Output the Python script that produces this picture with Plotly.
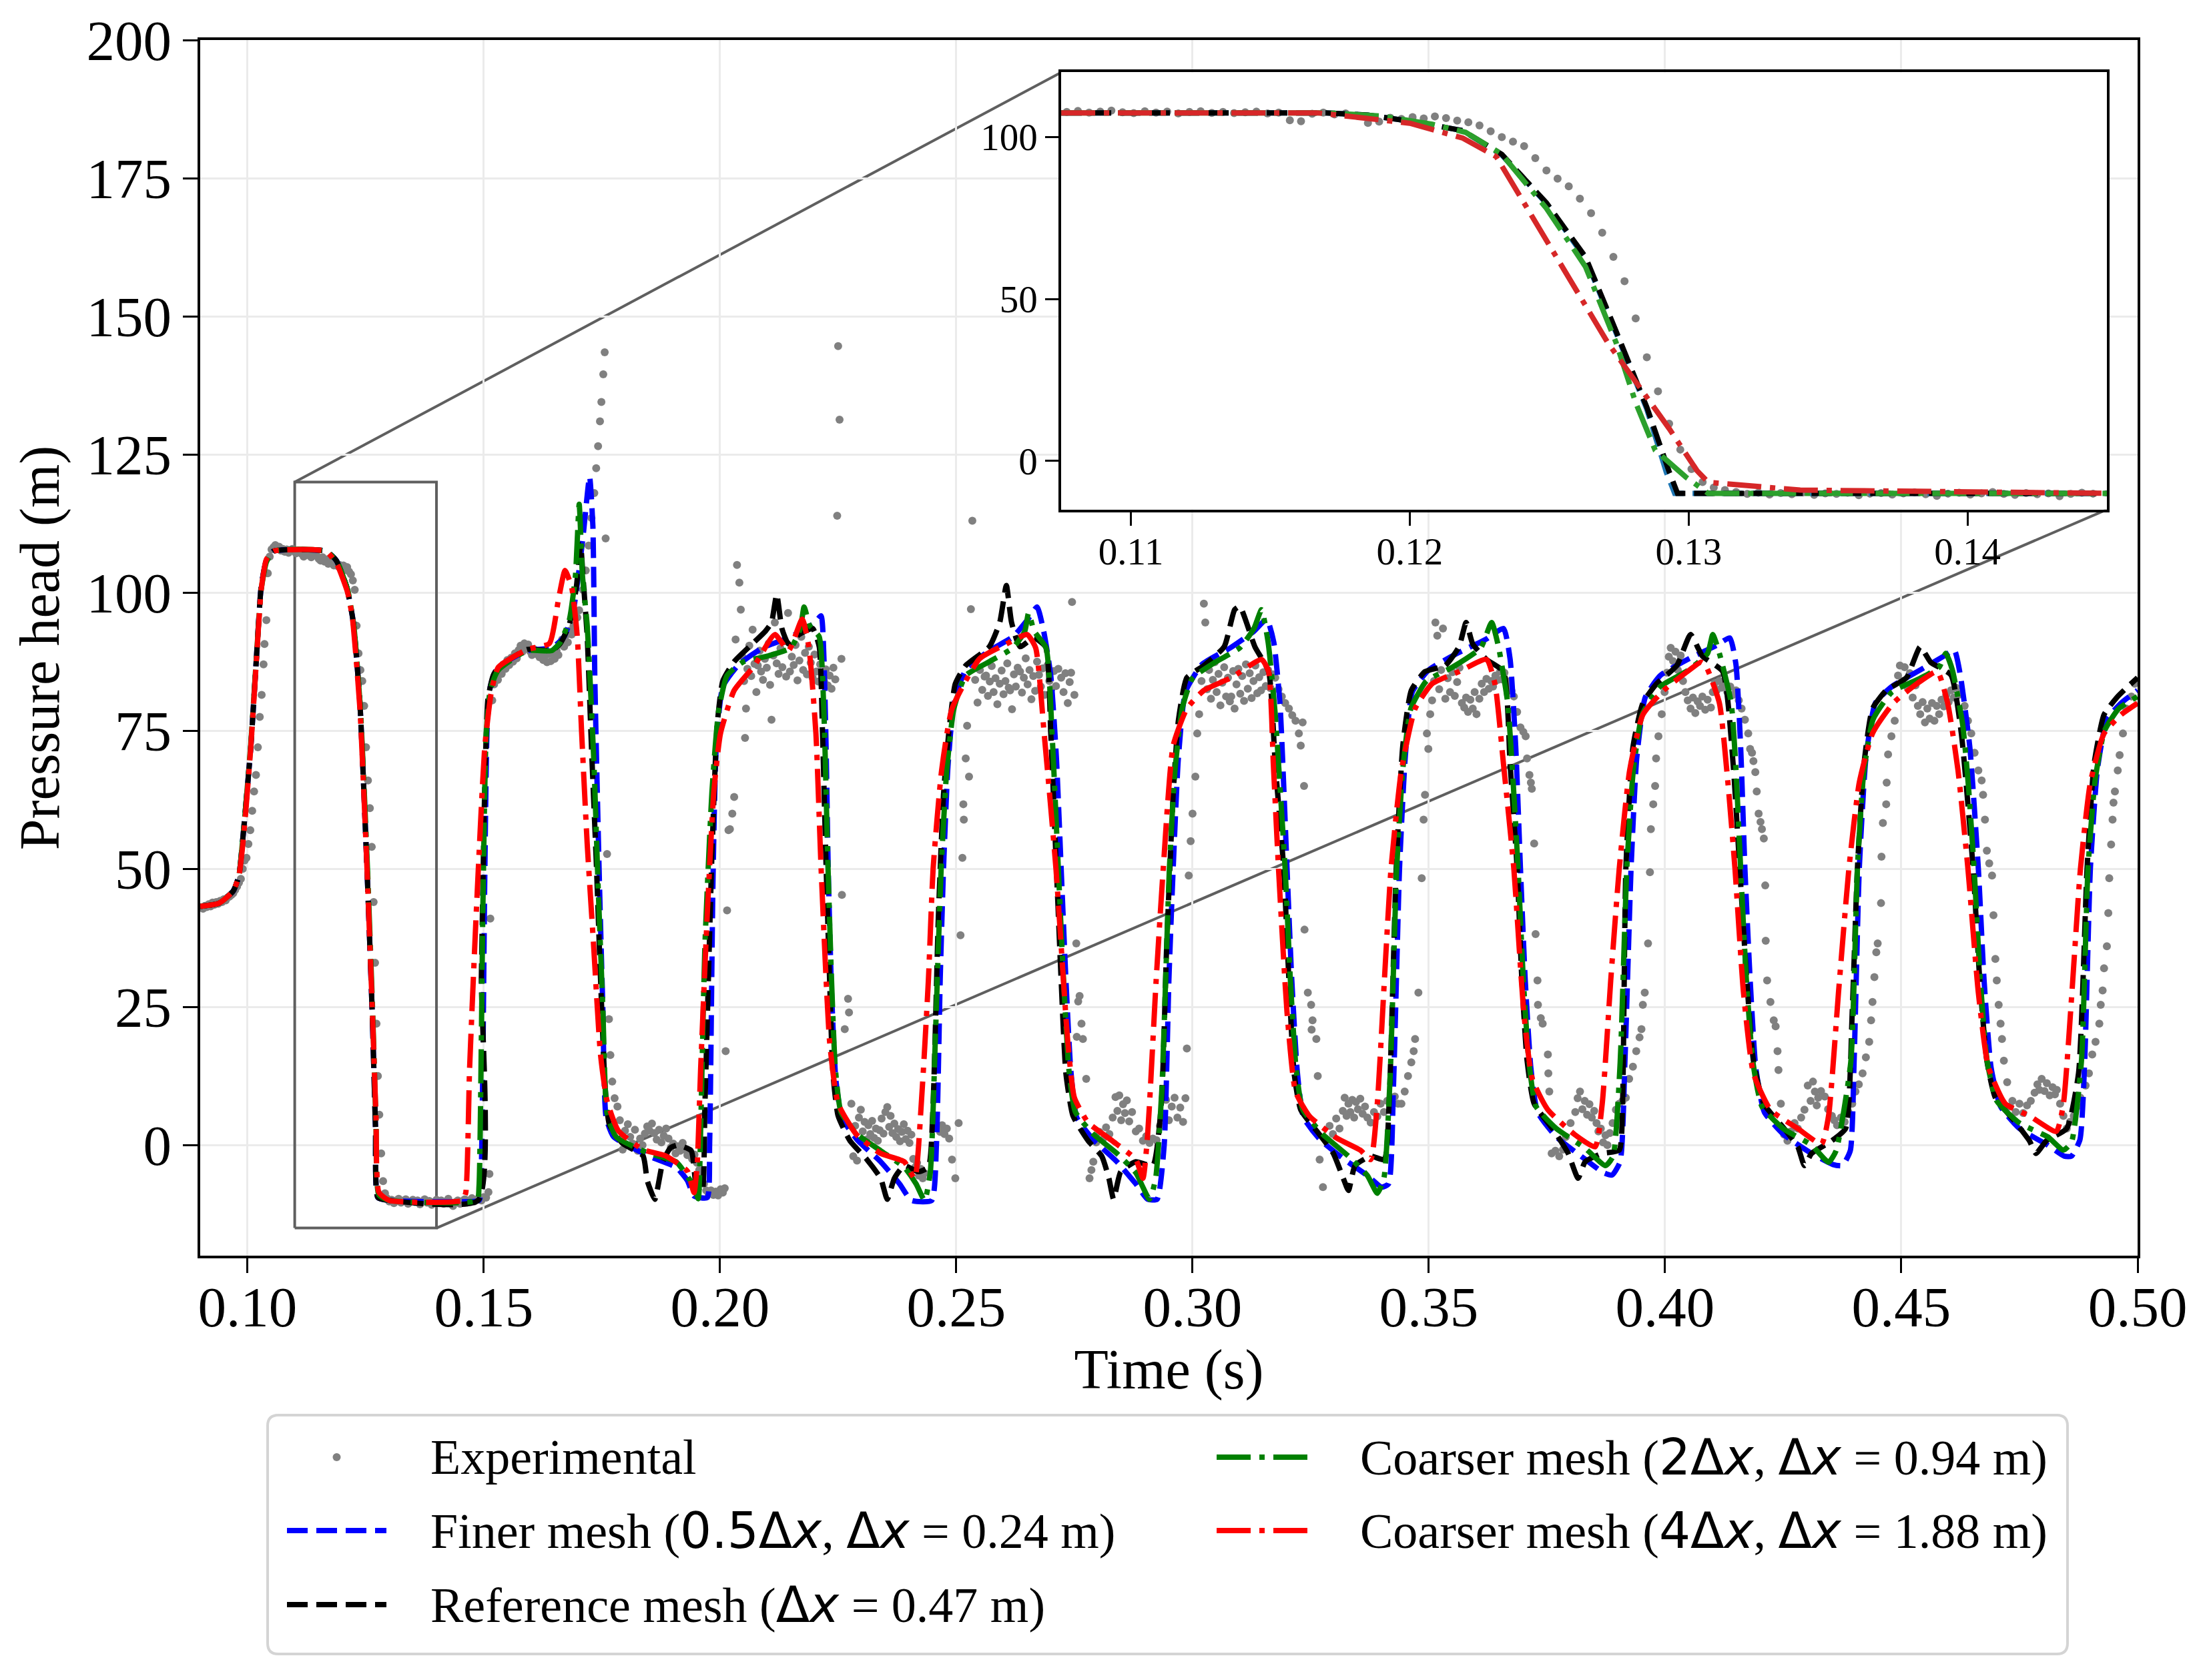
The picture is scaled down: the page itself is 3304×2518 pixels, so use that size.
import plotly.graph_objects as go

# ------------------------------------------------------------------
# values  (time in s, head in m)
# ------------------------------------------------------------------
exp_pts = [
    # initial state and first rise
    (0.0902, 43.0), (0.0906, 42.8), (0.0910, 43.3), (0.0914, 43.1), (0.0918, 43.6), (0.0922, 43.2),
    (0.0926, 43.9), (0.0930, 43.5), (0.0934, 44.0), (0.0938, 43.7), (0.0942, 44.2), (0.0946, 44.0),
    (0.0950, 44.5), (0.0954, 44.3), (0.0958, 44.8), (0.0962, 45.0), (0.0966, 45.3), (0.0970, 45.6),
    (0.0974, 46.2), (0.0978, 46.8), (0.0982, 47.5), (0.0986, 48.2), (0.0990, 50.0), (0.0994, 51.5),
    (0.0998, 52.0), (0.1002, 54.5), (0.1006, 57.0), (0.1010, 60.5), (0.1014, 64.0), (0.1018, 67.0),
    (0.1022, 72.0), (0.1026, 77.5), (0.1030, 81.5), (0.1034, 87.0), (0.1036, 90.7), (0.1040, 95.0),
    (0.1043, 103.5), (0.1047, 106.5), (0.1051, 107.8),
    # first plateau
    (0.1055, 108.2), (0.1059, 108.6), (0.1063, 107.9), (0.1067, 108.3), (0.1071, 107.6), (0.1075, 107.9),
    (0.1079, 107.4), (0.1083, 107.8), (0.1087, 107.2), (0.1091, 107.6), (0.1095, 107.9), (0.1099, 107.5),
    (0.1103, 107.1), (0.1107, 107.6), (0.1111, 107.3), (0.1115, 107.0), (0.1119, 106.5), (0.1123, 107.2),
    (0.1127, 106.8), (0.1131, 107.1), (0.1135, 106.4), (0.1139, 106.9), (0.1143, 107.2), (0.1147, 106.6),
    (0.1151, 106.1), (0.1155, 105.8), (0.1159, 106.4), (0.1163, 105.6), (0.1167, 106.0), (0.1171, 105.2),
    (0.1175, 105.9), (0.1179, 105.4), (0.1183, 104.9), (0.1187, 105.5), (0.1191, 104.8), (0.1195, 105.0),
    (0.1199, 104.4), (0.1203, 104.9), (0.1207, 104.1), (0.1211, 104.6), (0.1215, 103.8),
    # first fall
    (0.1219, 103.3), (0.1223, 102.2), (0.1227, 100.5), (0.1231, 94.0), (0.1235, 89.0), (0.1239, 86.0),
    (0.1243, 84.0), (0.1247, 79.5), (0.1251, 72.0), (0.1255, 66.0), (0.1259, 61.0), (0.1263, 54.0),
    (0.1267, 44.0), (0.1270, 33.0), (0.1273, 22.0), (0.1276, 12.5), (0.1279, 5.5), (0.1283, -1.5),
    (0.1287, -6.5), (0.1291, -8.7),
    # cavity floor
    (0.1295, -9.6), (0.1300, -10.2), (0.1305, -9.9), (0.1310, -10.5), (0.1315, -10.0), (0.1320, -9.7),
    (0.1325, -10.4), (0.1330, -10.1), (0.1335, -9.8), (0.1340, -10.6), (0.1345, -10.2), (0.1350, -9.9),
    (0.1355, -10.3), (0.1360, -10.0), (0.1365, -10.7), (0.1370, -10.2), (0.1375, -9.8), (0.1380, -10.4),
    (0.1385, -10.1), (0.1390, -10.8), (0.1395, -10.3), (0.1400, -9.9), (0.1405, -10.5), (0.1410, -10.0),
    (0.1415, -10.6), (0.1420, -10.2), (0.1425, -9.7), (0.1430, -10.4), (0.1435, -11.0), (0.1440, -10.3),
    (0.1445, -10.0), (0.1450, -10.6), (0.1455, -10.1), (0.1460, -9.8), (0.1465, -10.4), (0.1470, -10.0),
    (0.1475, -9.6), (0.1480, -10.2), (0.1485, -9.9), (0.1490, -9.5), (0.1495, -10.0), (0.1500, -9.4),
    (0.1505, -9.5), (0.1510, -8.5), (0.1512, -5.2),
    # cycle 1
    (0.1514, 41.0), (0.1518, 80.5), (0.1522, 83.4), (0.1526, 85.0), (0.1530, 84.2), (0.1534, 86.1),
    (0.1538, 85.3), (0.1542, 87.0), (0.1546, 86.2), (0.1550, 87.8), (0.1554, 86.9), (0.1558, 88.2),
    (0.1562, 87.5), (0.1566, 89.0), (0.1570, 88.1), (0.1574, 89.6), (0.1578, 90.4), (0.1582, 89.3),
    (0.1586, 90.8), (0.1590, 89.9), (0.1594, 90.6), (0.1598, 89.4), (0.1602, 88.7), (0.1606, 89.8),
    (0.1610, 88.9), (0.1614, 89.5), (0.1618, 88.3), (0.1622, 89.1), (0.1626, 87.8), (0.1630, 88.6),
    (0.1634, 87.4), (0.1638, 88.9), (0.1642, 87.6), (0.1646, 89.2), (0.1650, 88.0), (0.1654, 89.5),
    (0.1658, 88.7), (0.1662, 90.6), (0.1666, 91.5), (0.1670, 90.2), (0.1674, 92.3), (0.1678, 91.0),
    (0.1682, 93.1), (0.1686, 92.4), (0.1690, 94.0), (0.1694, 93.2), (0.1698, 95.5), (0.1702, 96.8),
    (0.1710, 100.5), (0.1716, 104.0), (0.1722, 108.5), (0.1728, 113.5), (0.1734, 118.0), (0.1738, 122.5),
    (0.1742, 126.5), (0.1746, 131.0), (0.1749, 134.5), (0.1753, 139.5), (0.1756, 143.5), (0.1758, 109.8),
    (0.1761, 52.7), (0.1765, 22.8), (0.1768, 16.3), (0.1772, 11.5), (0.1777, 8.5), (0.1783, 7.0),
    (0.1788, 4.5), (0.1794, -0.8), (0.1799, 2.6), (0.1805, 3.8), (0.1810, 1.5), (0.1815, 0.3),
    (0.1820, 2.8), (0.1826, -1.0), (0.1831, 1.2), (0.1836, 0.0), (0.1841, 2.1), (0.1846, 3.4),
    (0.1851, 2.6), (0.1856, 3.9), (0.1861, 2.2), (0.1866, 1.0), (0.1871, 2.8), (0.1876, 0.5),
    (0.1881, 1.7), (0.1886, 3.0), (0.1891, 1.2), (0.1896, -0.4), (0.1901, 0.3), (0.1906, -1.5),
    (0.1911, -0.2), (0.1916, -1.0), (0.1921, 0.4), (0.1926, -0.8), (0.1931, -1.8), (0.1936, -1.0),
    (0.1941, -2.5), (0.1946, -1.7), (0.1951, -3.2), (0.1956, -4.5), (0.1961, -5.8), (0.1966, -7.0),
    (0.1971, -8.2), (0.1976, -8.8), (0.1981, -8.2), (0.1986, -9.0), (0.1991, -8.4), (0.1996, -9.1),
    (0.2001, -8.0), (0.2006, -8.6), (0.2010, -7.8),
    # cycle 2
    (0.2012, 17.0), (0.2015, 42.5), (0.2018, 57.0), (0.2021, 57.2), (0.2026, 60.0), (0.2030, 63.0),
    (0.2033, 91.5), (0.2036, 105.0), (0.2041, 101.8), (0.2044, 96.9), (0.2053, 73.7), (0.2055, 79.0),
    (0.2047, 88.5), (0.2051, 84.0), (0.2058, 86.2), (0.2062, 90.4), (0.2066, 84.9), (0.2069, 93.3),
    (0.2073, 87.1), (0.2077, 82.0), (0.2080, 86.8), (0.2084, 89.5), (0.2087, 85.7), (0.2091, 84.2),
    (0.2095, 88.0), (0.2099, 86.4), (0.2103, 90.8), (0.2106, 83.3), (0.2109, 77.0), (0.2113, 88.6),
    (0.2116, 94.6), (0.2120, 87.2), (0.2124, 85.3), (0.2128, 89.9), (0.2132, 86.5), (0.2136, 91.2),
    (0.2140, 84.8), (0.2144, 96.3), (0.2148, 85.7), (0.2152, 88.4), (0.2156, 86.9), (0.2160, 90.5),
    (0.2164, 84.1), (0.2168, 87.7), (0.2172, 92.0), (0.2176, 86.0), (0.2180, 89.1), (0.2184, 85.2),
    (0.2188, 90.2), (0.2192, 87.3), (0.2196, 84.6), (0.2200, 88.8), (0.2204, 85.7), (0.2208, 83.9),
    (0.2212, 87.0), (0.2216, 85.5), (0.2220, 84.0), (0.2224, 86.1), (0.2228, 83.2), (0.2232, 85.0),
    (0.2236, 82.6), (0.2240, 86.4), (0.2244, 84.3), (0.2248, 113.9), (0.2250, 144.6), (0.2253, 131.3),
    (0.2257, 88.0), (0.2258, 45.3), (0.2264, 21.0), (0.2271, 26.5), (0.2273, 24.0), (0.2278, 7.5),
    (0.2282, -2.0), (0.2286, 3.5), (0.2290, -2.8), (0.2294, 5.0), (0.2298, 6.4), (0.2302, 2.5),
    (0.2306, 4.2), (0.2310, 1.0), (0.2314, 3.6), (0.2318, 2.0), (0.2322, 4.4), (0.2326, 1.3),
    (0.2330, 3.0), (0.2334, 0.8), (0.2338, 2.7), (0.2342, 4.8), (0.2346, 2.1), (0.2350, 6.0),
    (0.2354, 6.9), (0.2358, 3.3), (0.2361, 5.3), (0.2365, 2.2), (0.2369, 3.9), (0.2373, 1.5),
    (0.2377, 2.9), (0.2381, 0.7), (0.2385, 2.4), (0.2389, 3.8), (0.2393, 1.1), (0.2397, 2.6),
    (0.2401, 0.4), (0.2405, 1.9), (0.2409, -2.5), (0.2413, -4.0), (0.2417, -3.2), (0.2421, -5.5),
    (0.2425, -4.3), (0.2429, -6.0), (0.2433, -5.1), (0.2462, 3.2), (0.2466, 2.4), (0.2470, 3.6),
    (0.2475, 2.0), (0.2480, 3.0), (0.2485, 1.2), (0.2491, -2.6), (0.2498, -6.0), (0.2505, 4.0),
    # cycle 3
    (0.2509, 38.0), (0.2513, 52.0), (0.2515, 61.7), (0.2516, 58.9), (0.2520, 70.0), (0.2523, 75.9),
    (0.2527, 66.7), (0.2531, 97.0), (0.2534, 113.0),
    (0.2540, 84.2), (0.2545, 80.1), (0.2550, 86.0), (0.2555, 82.4), (0.2560, 84.8), (0.2563, 85.0),
    (0.2567, 81.3), (0.2571, 83.9), (0.2575, 86.7), (0.2579, 82.0), (0.2583, 84.5), (0.2587, 79.8),
    (0.2592, 83.5), (0.2596, 85.9), (0.2600, 81.6), (0.2604, 84.0), (0.2608, 87.2), (0.2611, 82.8),
    (0.2614, 82.3), (0.2618, 78.9), (0.2622, 85.2), (0.2626, 83.0), (0.2630, 86.4), (0.2635, 85.7),
    (0.2639, 81.9), (0.2643, 84.6), (0.2647, 88.1), (0.2651, 83.4), (0.2655, 86.0), (0.2659, 80.7),
    (0.2663, 84.9), (0.2667, 82.2), (0.2671, 87.5), (0.2675, 85.1), (0.2679, 83.0), (0.2683, 86.3),
    (0.2687, 81.5), (0.2693, 86.8), (0.2697, 84.0), (0.2701, 82.5), (0.2707, 85.8), (0.2711, 83.1),
    (0.2716, 86.2), (0.2722, 84.6), (0.2727, 82.0), (0.2731, 85.4), (0.2736, 80.0), (0.2740, 83.8),
    (0.2743, 85.5), (0.2745, 98.3), (0.2750, 81.5),
    (0.2754, 36.5), (0.2755, 19.6), (0.2758, 26.0), (0.2761, 27.0), (0.2765, 22.0), (0.2768, 19.2),
    (0.2775, 12.0), (0.2782, -6.0), (0.2786, -4.5),
    (0.2790, -3.0), (0.2796, 0.5), (0.2803, 2.4), (0.2810, 1.0), (0.2817, 3.2), (0.2824, 2.0),
    (0.2831, 5.0), (0.2837, 8.7), (0.2841, 6.2), (0.2845, 9.0), (0.2849, 4.5), (0.2853, 7.4),
    (0.2857, 5.8), (0.2861, 8.1), (0.2866, 4.3), (0.2872, 6.0), (0.2880, 2.5), (0.2887, 3.0),
    (0.2895, 0.8), (0.2902, 1.6), (0.2909, 0.4), (0.2916, 1.2), (0.2924, 0.9), (0.2931, 3.5),
    (0.2938, 5.5), (0.2944, 8.2), (0.2950, 4.5), (0.2956, 7.0), (0.2962, 8.6), (0.2968, 5.0),
    (0.2974, 6.8), (0.2980, 4.2), (0.2985, 8.5), (0.2988, 17.5),
    # cycle 4
    (0.2992, 48.8), (0.2996, 55.0), (0.3000, 60.0), (0.3006, 66.7), (0.3010, 74.5), (0.3014, 78.0),
    (0.3019, 84.0), (0.3024, 98.0), (0.3027, 94.6),
    (0.3031, 82.5), (0.3035, 86.0), (0.3039, 80.8), (0.3043, 84.2), (0.3047, 87.4), (0.3051, 82.0),
    (0.3055, 85.3), (0.3059, 79.6), (0.3063, 83.7), (0.3067, 86.5), (0.3071, 81.2), (0.3075, 84.6),
    (0.3079, 80.3), (0.3082, 81.2), (0.3086, 85.8), (0.3089, 79.0), (0.3093, 83.4), (0.3097, 86.2),
    (0.3101, 81.7), (0.3105, 84.9), (0.3109, 80.4), (0.3113, 87.0), (0.3117, 82.6), (0.3121, 85.4),
    (0.3125, 80.9), (0.3129, 84.0), (0.3133, 86.8), (0.3137, 81.8), (0.3141, 84.7), (0.3145, 82.3),
    (0.3150, 85.6), (0.3155, 83.1), (0.3160, 86.0), (0.3165, 82.7), (0.3170, 85.2), (0.3175, 84.6),
    (0.3182, 82.5), (0.3189, 81.2), (0.3196, 80.0), (0.3204, 79.0), (0.3211, 77.8), (0.3218, 76.8),
    (0.3225, 74.5), (0.3229, 72.3), (0.3233, 76.5), (0.3236, 65.0), (0.3237, 39.0), (0.3244, 27.6),
    (0.3251, 25.4), (0.3254, 22.6), (0.3252, 20.9), (0.3262, 19.2), (0.3265, 12.5), (0.3269, -2.6),
    (0.3276, -7.6),
    (0.3283, 1.0), (0.3290, 3.5), (0.3297, 2.0), (0.3304, 4.8), (0.3311, 3.0), (0.3318, 6.2),
    (0.3322, 8.6), (0.3326, 5.3), (0.3330, 7.5), (0.3334, 6.0), (0.3338, 8.2), (0.3342, 5.0),
    (0.3346, 7.8), (0.3350, 6.5), (0.3355, 8.4), (0.3360, 5.7), (0.3365, 7.0), (0.3370, 5.0),
    (0.3377, 4.1), (0.3384, 6.0), (0.3391, 5.2), (0.3398, 7.5), (0.3405, 6.0), (0.3412, 8.0),
    (0.3420, 7.2), (0.3428, 8.8), (0.3435, 7.5), (0.3442, 7.5), (0.3449, 9.7),
    # cycle 5
    (0.3456, 12.5), (0.3463, 15.0), (0.3468, 17.0), (0.3471, 19.2), (0.3478, 27.6), (0.3485, 48.3),
    (0.3489, 58.9), (0.3492, 63.4), (0.3496, 74.5), (0.3499, 71.7), (0.3503, 78.0),
    (0.3507, 80.5), (0.3511, 84.0), (0.3514, 94.6), (0.3518, 92.2), (0.3522, 82.5), (0.3526, 86.0),
    (0.3530, 93.5), (0.3535, 80.8), (0.3540, 84.5), (0.3545, 82.0), (0.3550, 85.6), (0.3555, 81.3),
    (0.3560, 83.8), (0.3565, 86.4), (0.3570, 80.0), (0.3575, 79.2), (0.3579, 81.0), (0.3583, 78.4),
    (0.3588, 80.6), (0.3593, 79.0), (0.3597, 82.0), (0.3601, 78.0), (0.3607, 80.8), (0.3612, 83.5),
    (0.3617, 82.0), (0.3622, 84.4), (0.3627, 82.6), (0.3632, 84.0), (0.3636, 83.0), (0.3641, 85.0),
    (0.3646, 84.2), (0.3651, 85.7), (0.3655, 84.3), (0.3660, 85.5), (0.3665, 84.0), (0.3670, 83.0),
    (0.3675, 82.2), (0.3680, 81.2), (0.3687, 78.4), (0.3694, 75.6), (0.3700, 74.8), (0.3705, 74.0),
    (0.3708, 70.0), (0.3713, 67.0), (0.3716, 65.6), (0.3718, 64.5), (0.3723, 54.6), (0.3726, 38.2),
    (0.3730, 29.8), (0.3731, 25.4), (0.3737, 23.0), (0.3741, 22.0), (0.3752, 16.4), (0.3753, 13.0),
    (0.3755, 9.7),
    (0.3760, -1.5), (0.3768, -1.0), (0.3776, -2.0), (0.3784, -0.8), (0.3790, 1.5), (0.3800, 4.0),
    (0.3810, 6.0), (0.3815, 8.5), (0.3820, 9.7), (0.3825, 6.5), (0.3830, 8.0), (0.3835, 5.5),
    (0.3840, 7.4), (0.3845, 5.0), (0.3850, 6.2), (0.3855, 4.0), (0.3859, 2.5), (0.3864, 3.0),
    (0.3869, 0.5), (0.3874, 1.8), (0.3878, 0.0), (0.3883, 2.2), (0.3889, 4.0), (0.3896, 6.4),
    # cycle 6
    (0.3903, 7.5), (0.3910, 8.0), (0.3917, 8.6), (0.3924, 12.0), (0.3932, 14.2), (0.3939, 17.0),
    (0.3946, 19.5), (0.3950, 21.0), (0.3953, 25.4), (0.3957, 27.6), (0.3964, 36.5), (0.3968, 49.4),
    (0.3970, 57.2), (0.3975, 61.7), (0.3979, 65.0), (0.3981, 70.0), (0.3986, 74.0), (0.3993, 78.0),
    (0.3999, 82.0), (0.4004, 85.5), (0.4008, 88.4), (0.4012, 90.0), (0.4017, 87.6), (0.4022, 89.3),
    (0.4027, 86.0), (0.4033, 88.6), (0.4038, 84.0), (0.4043, 82.0), (0.4048, 80.5), (0.4054, 79.0),
    (0.4059, 81.0), (0.4064, 78.2), (0.4069, 80.3), (0.4074, 79.5), (0.4079, 81.2), (0.4085, 78.8),
    (0.4090, 80.6), (0.4097, 79.2), (0.4101, 82.0), (0.4105, 83.6), (0.4110, 82.4), (0.4115, 84.0),
    (0.4120, 82.8), (0.4126, 83.5), (0.4132, 82.0), (0.4138, 83.0), (0.4144, 81.5), (0.4150, 82.3),
    (0.4156, 80.5), (0.4162, 79.0), (0.4169, 77.0), (0.4176, 74.5), (0.4180, 71.7), (0.4184, 71.0),
    (0.4187, 69.5), (0.4191, 67.5), (0.4194, 64.0), (0.4198, 60.0), (0.4202, 58.5), (0.4205, 57.2),
    (0.4209, 55.5), (0.4212, 47.0), (0.4213, 37.0), (0.4216, 29.8), (0.4223, 25.9), (0.4230, 22.6),
    (0.4234, 21.5), (0.4238, 17.0), (0.4240, 13.6), (0.4245, 7.5),
    (0.4252, 1.9), (0.4259, 0.8), (0.4266, 2.5), (0.4274, 4.0), (0.4281, 3.0), (0.4288, 5.0),
    (0.4295, 6.4), (0.4302, 10.8), (0.4308, 8.0), (0.4313, 11.5), (0.4317, 9.7), (0.4321, 7.2),
    (0.4324, 8.6), (0.4330, 9.8), (0.4338, 8.8), (0.4345, 6.5), (0.4353, 5.3), (0.4358, 4.5),
    (0.4364, 3.6), (0.4372, 5.0), (0.4380, 4.2), (0.4388, 6.0),
    # cycle 7
    (0.4396, 7.5), (0.4403, 9.7), (0.4410, 11.0), (0.4418, 13.0), (0.4425, 15.9), (0.4432, 18.7),
    (0.4436, 22.6), (0.4439, 25.9), (0.4443, 30.4), (0.4447, 34.9), (0.4450, 36.5), (0.4457, 43.8),
    (0.4458, 52.2), (0.4461, 58.3), (0.4468, 61.7), (0.4469, 65.6), (0.4472, 70.7), (0.4479, 74.0),
    (0.4486, 76.8), (0.4493, 85.0), (0.4497, 86.8),
    (0.4502, 84.0), (0.4507, 86.5), (0.4512, 83.0), (0.4518, 85.4), (0.4524, 81.0), (0.4530, 83.2),
    (0.4535, 79.5), (0.4540, 78.0), (0.4545, 80.2), (0.4550, 76.5), (0.4555, 79.0), (0.4560, 77.2),
    (0.4565, 80.0), (0.4570, 76.8), (0.4575, 79.5), (0.4580, 78.0), (0.4585, 80.6), (0.4590, 79.4),
    (0.4595, 81.5), (0.4600, 80.2), (0.4605, 82.3), (0.4611, 81.0), (0.4616, 82.8), (0.4621, 81.5),
    (0.4627, 81.8), (0.4634, 79.5), (0.4641, 76.8), (0.4648, 74.5), (0.4655, 71.0), (0.4663, 67.8),
    (0.4670, 66.0), (0.4673, 63.4), (0.4677, 58.9), (0.4681, 53.3), (0.4686, 51.0), (0.4692, 48.8),
    (0.4695, 41.6), (0.4699, 33.7), (0.4702, 29.8), (0.4706, 25.4), (0.4710, 22.0), (0.4713, 19.2),
    (0.4717, 15.3), (0.4724, 11.4),
    (0.4730, 7.0), (0.4735, 8.0), (0.4742, 6.0), (0.4750, 7.5), (0.4758, 5.8), (0.4766, 7.2),
    (0.4774, 8.0), (0.4782, 9.5), (0.4788, 11.0), (0.4792, 10.0), (0.4797, 12.0), (0.4803, 9.8),
    (0.4808, 11.2), (0.4814, 9.0), (0.4820, 10.5), (0.4825, 9.2), (0.4829, 10.0), (0.4836, 7.5),
    (0.4843, 5.3), (0.4850, 3.0), (0.4857, 4.2), (0.4865, 5.3), (0.4872, 7.0), (0.4879, 8.6),
    # cycle 8
    (0.4890, 10.8), (0.4897, 13.0), (0.4904, 16.4), (0.4911, 18.7), (0.4919, 22.0), (0.4922, 25.4),
    (0.4926, 28.0), (0.4929, 32.0), (0.4935, 36.0), (0.4938, 42.0), (0.4940, 48.3), (0.4944, 54.4),
    (0.4947, 58.9), (0.4949, 62.0), (0.4952, 64.0), (0.4958, 67.8), (0.4962, 70.6), (0.4969, 74.5),
    (0.4976, 79.0), (0.4987, 81.2), (0.4994, 83.5),
]

finer_pts = [
    (0.0900, 43.2), (0.0940, 43.8), (0.0970, 46.0), (0.0982, 48.8), (0.0989, 54.4), (0.0996, 61.0),
    (0.1007, 72.0), (0.1018, 86.8), (0.1029, 101.0), (0.1040, 105.8), (0.1055, 107.5), (0.1166, 107.5),
    (0.1188, 105.8), (0.1210, 101.0), (0.1224, 94.6), (0.1238, 80.0), (0.1253, 50.0), (0.1264, 24.0),
    (0.1271, 3.0), (0.1276, -9.5), (0.1300, -10.0), (0.1490, -10.0),
    (0.1493, -9.2), (0.1498, 13.7), (0.1502, 47.0), (0.1507, 75.0), (0.1514, 83.0), (0.1531, 86.5),
    (0.1592, 89.5), (0.1644, 90.0), (0.1670, 92.0), (0.1690, 97.0), (0.1710, 110.0), (0.1724, 121.0),
    (0.1731, 112.0), (0.1735, 85.0), (0.1740, 65.0), (0.1745, 47.0), (0.1752, 25.0), (0.1759, 5.0),
    (0.1775, 1.5), (0.1850, -2.0), (0.1907, -4.0), (0.1931, -6.4), (0.1945, -9.2), (0.1973, -9.5),
    (0.1978, 0.0), (0.1985, 47.0), (0.1992, 72.0), (0.2006, 83.0), (0.2040, 87.0), (0.2090, 90.0),
    (0.2150, 92.0), (0.2200, 94.5), (0.2214, 95.8), (0.2220, 88.0), (0.2225, 70.0), (0.2229, 50.0),
    (0.2236, 28.0), (0.2245, 12.0), (0.2258, 5.0), (0.2290, 1.0), (0.2340, -3.0), (0.2380, -7.0),
    (0.2405, -10.0), (0.2448, -10.0), (0.2458, 0.0), (0.2466, 30.0), (0.2473, 50.0), (0.2482, 68.0),
    (0.2495, 80.0), (0.2520, 86.0), (0.2570, 89.5), (0.2620, 92.0), (0.2650, 95.0), (0.2671, 97.4),
    (0.2685, 93.0), (0.2700, 85.0), (0.2712, 70.0), (0.2722, 50.0), (0.2732, 30.0), (0.2742, 14.0),
    (0.2755, 5.0), (0.2790, 1.0), (0.2840, -3.0), (0.2880, -7.0), (0.2905, -9.8), (0.2925, -9.8),
    (0.2940, 0.0), (0.2950, 30.0), (0.2959, 50.0), (0.2970, 70.0), (0.2985, 82.0), (0.3020, 87.0),
    (0.3080, 90.0), (0.3130, 93.0), (0.3157, 95.2), (0.3172, 91.0), (0.3185, 80.0), (0.3193, 65.0),
    (0.3200, 50.0), (0.3210, 30.0), (0.3222, 13.0), (0.3235, 5.0), (0.3270, 1.0), (0.3320, -2.5),
    (0.3370, -5.5), (0.3400, -7.6), (0.3415, -7.0), (0.3425, 10.0), (0.3438, 50.0), (0.3450, 70.0),
    (0.3465, 82.0), (0.3500, 86.0), (0.3560, 89.0), (0.3620, 91.5), (0.3658, 93.5), (0.3672, 88.0),
    (0.3684, 72.0), (0.3694, 50.0), (0.3704, 30.0), (0.3716, 14.0), (0.3730, 6.0), (0.3770, 1.5),
    (0.3830, -2.5), (0.3870, -5.0), (0.3888, -5.4), (0.3905, -3.0), (0.3915, 15.0), (0.3928, 50.0),
    (0.3940, 70.0), (0.3958, 81.0), (0.3990, 85.0), (0.4050, 88.0), (0.4110, 90.5), (0.4137, 91.8),
    (0.4150, 87.0), (0.4160, 72.0), (0.4169, 50.0), (0.4180, 30.0), (0.4192, 14.0), (0.4210, 6.0),
    (0.4250, 2.0), (0.4310, -1.5), (0.4355, -3.5), (0.4375, -3.7), (0.4392, -1.0), (0.4400, 15.0),
    (0.4411, 50.0), (0.4425, 70.0), (0.4445, 80.0), (0.4480, 83.0), (0.4540, 86.0), (0.4590, 88.5),
    (0.4612, 89.6), (0.4625, 85.0), (0.4645, 72.0), (0.4663, 50.0), (0.4675, 30.0), (0.4690, 14.0),
    (0.4710, 7.0), (0.4750, 3.0), (0.4810, 0.0), (0.4845, -2.0), (0.4860, -2.0), (0.4878, 1.0),
    (0.4888, 15.0), (0.4900, 50.0), (0.4915, 68.0), (0.4935, 77.0), (0.4965, 80.0), (0.5000, 82.3),
]

ref_pts = [
    (0.0900, 43.2), (0.0940, 43.8), (0.0970, 46.0), (0.0982, 48.8), (0.0989, 54.4), (0.0996, 61.0),
    (0.1007, 72.0), (0.1018, 86.8), (0.1029, 101.0), (0.1040, 105.8), (0.1055, 107.5), (0.1166, 107.5),
    (0.1188, 105.8), (0.1210, 101.0), (0.1224, 94.6), (0.1238, 80.0), (0.1253, 50.0), (0.1264, 24.0),
    (0.1271, 3.0), (0.1276, -9.5), (0.1300, -10.0), (0.1488, -10.0),
    (0.1495, 30.5), (0.1502, 64.0), (0.1509, 80.8), (0.1520, 85.0), (0.1531, 86.5), (0.1592, 89.7),
    (0.1644, 89.5), (0.1662, 90.8), (0.1681, 94.2), (0.1696, 101.0), (0.1705, 108.7), (0.1710, 103.0),
    (0.1719, 92.0), (0.1728, 72.0), (0.1738, 51.7), (0.1747, 30.5), (0.1757, 10.4), (0.1766, 3.7),
    (0.1794, 0.3), (0.1837, -1.9), (0.1846, -6.4), (0.1862, -9.8), (0.1879, -3.0), (0.1895, -0.5),
    (0.1911, 0.0), (0.1939, -1.0), (0.1950, -7.5), (0.1962, -8.6), (0.1968, 7.0), (0.1983, 52.8),
    (0.1994, 76.0), (0.2006, 84.0), (0.2030, 87.5), (0.2072, 91.0), (0.2096, 93.0), (0.2109, 94.6),
    (0.2120, 99.7), (0.2131, 93.5), (0.2145, 90.7), (0.2167, 92.4), (0.2196, 93.5), (0.2210, 90.2),
    (0.2217, 74.5), (0.2224, 52.0), (0.2232, 29.8), (0.2239, 13.0), (0.2250, 5.3), (0.2275, 0.8),
    (0.2311, -2.6), (0.2340, -6.0), (0.2354, -9.8), (0.2369, -6.0), (0.2390, -3.7), (0.2419, -4.8),
    (0.2441, -4.0), (0.2451, 7.5), (0.2462, 41.0), (0.2473, 63.4), (0.2484, 74.5), (0.2498, 83.5),
    (0.2520, 86.8), (0.2570, 90.2), (0.2592, 94.6), (0.2606, 101.3), (0.2617, 94.6), (0.2635, 90.2),
    (0.2664, 91.8), (0.2689, 90.2), (0.2700, 74.5), (0.2711, 52.0), (0.2722, 29.8), (0.2732, 13.0),
    (0.2747, 5.3), (0.2779, 0.8), (0.2808, -2.0), (0.2823, -6.0), (0.2833, -9.8), (0.2848, -4.8),
    (0.2880, -3.0), (0.2916, -3.7), (0.2934, 7.5), (0.2945, 35.4), (0.2959, 63.4), (0.2970, 76.8),
    (0.2988, 84.6), (0.3024, 86.8), (0.3067, 90.2), (0.3089, 96.9), (0.3100, 97.5), (0.3132, 90.2),
    (0.3161, 85.7), (0.3175, 69.0), (0.3193, 50.0), (0.3204, 29.8), (0.3215, 13.0), (0.3229, 6.4),
    (0.3269, 1.9), (0.3298, -1.5), (0.3319, -6.0), (0.3330, -8.2), (0.3344, -3.7), (0.3377, -2.0),
    (0.3406, -2.6), (0.3416, 7.5), (0.3431, 50.0), (0.3445, 72.3), (0.3463, 82.3), (0.3492, 85.7),
    (0.3535, 86.8), (0.3564, 90.2), (0.3579, 94.6), (0.3593, 90.7), (0.3622, 87.9), (0.3658, 85.7),
    (0.3672, 69.0), (0.3687, 50.0), (0.3697, 29.8), (0.3708, 15.3), (0.3723, 7.5), (0.3766, 2.5),
    (0.3795, -1.5), (0.3816, -6.0), (0.3831, -3.0), (0.3867, -1.5), (0.3903, -0.9), (0.3910, 7.5),
    (0.3917, 50.0), (0.3932, 72.0), (0.3953, 80.0), (0.3982, 83.5), (0.4025, 86.8), (0.4054, 92.4),
    (0.4079, 88.5), (0.4122, 85.7), (0.4144, 69.0), (0.4158, 50.0), (0.4173, 29.8), (0.4187, 15.3),
    (0.4209, 7.5), (0.4252, 3.0), (0.4281, -0.3), (0.4295, -3.7), (0.4310, -1.5), (0.4353, 0.8),
    (0.4382, 3.0), (0.4396, 24.0), (0.4407, 50.0), (0.4421, 69.0), (0.4439, 79.0), (0.4468, 82.3),
    (0.4511, 84.6), (0.4540, 90.2), (0.4562, 87.4), (0.4605, 85.1), (0.4627, 74.5), (0.4652, 50.0),
    (0.4666, 29.8), (0.4681, 15.3), (0.4699, 8.6), (0.4742, 4.1), (0.4771, 0.8), (0.4785, -1.5),
    (0.4807, 0.8), (0.4850, 3.0), (0.4875, 13.0), (0.4893, 50.0), (0.4908, 69.0), (0.4929, 77.9),
    (0.4958, 81.2), (0.5000, 84.6),
]

coarse2_pts = [
    (0.0900, 43.2), (0.0940, 43.8), (0.0970, 46.0), (0.0982, 48.8), (0.0989, 54.4), (0.0996, 61.0),
    (0.1007, 72.5), (0.1018, 87.0), (0.1029, 100.5), (0.1040, 105.5), (0.1055, 107.5), (0.1166, 107.5),
    (0.1190, 105.5), (0.1212, 100.5), (0.1225, 94.0), (0.1239, 79.0), (0.1254, 50.0), (0.1265, 24.0),
    (0.1272, 4.0), (0.1278, -9.0), (0.1300, -10.0), (0.1486, -10.0),
    (0.1490, -7.5), (0.1498, 41.7), (0.1505, 74.0), (0.1514, 82.5), (0.1531, 86.0), (0.1592, 89.5),
    (0.1644, 89.5), (0.1662, 91.0), (0.1681, 95.0), (0.1694, 103.0), (0.1702, 116.0), (0.1709, 103.0),
    (0.1719, 94.0), (0.1733, 69.6), (0.1742, 47.0), (0.1752, 25.0), (0.1761, 5.8), (0.1780, 1.5),
    (0.1850, -1.5), (0.1907, -3.0), (0.1945, -7.5), (0.1954, -9.7), (0.1959, 2.6), (0.1968, 36.0),
    (0.1983, 64.0), (0.1997, 78.5), (0.2015, 85.0), (0.2050, 87.5), (0.2100, 88.5), (0.2150, 90.0),
    (0.2170, 93.5), (0.2178, 97.4), (0.2190, 94.0), (0.2210, 92.0), (0.2220, 78.0), (0.2228, 52.0),
    (0.2236, 30.0), (0.2244, 14.0), (0.2256, 6.0), (0.2290, 2.0), (0.2340, -1.0), (0.2390, -4.0),
    (0.2415, -7.0), (0.2433, -10.0), (0.2445, -5.0), (0.2456, 20.0), (0.2468, 50.0), (0.2480, 68.0),
    (0.2495, 79.0), (0.2520, 85.0), (0.2570, 87.5), (0.2620, 90.0), (0.2645, 93.0), (0.2653, 96.3),
    (0.2665, 93.0), (0.2690, 90.0), (0.2703, 74.0), (0.2716, 50.0), (0.2727, 30.0), (0.2738, 14.0),
    (0.2752, 6.0), (0.2790, 2.0), (0.2840, -1.5), (0.2880, -5.0), (0.2909, -9.8), (0.2922, -6.0),
    (0.2935, 10.0), (0.2951, 50.0), (0.2963, 68.0), (0.2978, 79.0), (0.3000, 84.5), (0.3050, 87.5),
    (0.3100, 90.0), (0.3130, 93.5), (0.3146, 96.9), (0.3160, 91.0), (0.3175, 78.0), (0.3185, 65.0),
    (0.3196, 50.0), (0.3207, 30.0), (0.3219, 14.0), (0.3233, 6.5), (0.3275, 2.0), (0.3330, -2.0),
    (0.3370, -5.5), (0.3391, -8.7), (0.3405, -6.0), (0.3418, 12.0), (0.3432, 50.0), (0.3445, 68.0),
    (0.3462, 79.0), (0.3495, 84.0), (0.3550, 86.5), (0.3610, 90.0), (0.3633, 94.6), (0.3648, 90.0),
    (0.3667, 80.0), (0.3679, 65.0), (0.3689, 50.0), (0.3700, 30.0), (0.3712, 15.0), (0.3727, 7.0),
    (0.3770, 3.0), (0.3830, -0.5), (0.3874, -3.7), (0.3890, -2.0), (0.3905, 15.0), (0.3919, 50.0),
    (0.3933, 68.0), (0.3952, 78.0), (0.3990, 83.0), (0.4050, 86.0), (0.4090, 89.0), (0.4101, 92.4),
    (0.4115, 89.0), (0.4140, 80.0), (0.4150, 68.0), (0.4160, 50.0), (0.4172, 30.0), (0.4186, 15.0),
    (0.4205, 7.0), (0.4250, 3.0), (0.4310, 0.0), (0.4346, -3.1), (0.4362, -1.0), (0.4393, 15.0),
    (0.4407, 50.0), (0.4420, 67.0), (0.4440, 77.0), (0.4480, 82.0), (0.4540, 84.5), (0.4580, 86.5),
    (0.4594, 89.0), (0.4608, 86.0), (0.4630, 76.0), (0.4642, 65.0), (0.4654, 50.0), (0.4667, 30.0),
    (0.4682, 15.0), (0.4702, 8.0), (0.4750, 4.0), (0.4810, 1.5), (0.4843, -0.9), (0.4860, 0.5),
    (0.4881, 15.0), (0.4895, 50.0), (0.4910, 66.0), (0.4930, 75.0), (0.4960, 79.0), (0.5000, 81.2),
]

coarse4_pts = [
    (0.0900, 43.2), (0.0940, 43.8), (0.0970, 46.0), (0.0982, 48.8), (0.0989, 53.5), (0.0996, 60.0),
    (0.1007, 72.0), (0.1018, 86.5), (0.1029, 100.5), (0.1040, 106.0), (0.1055, 107.5), (0.1166, 107.5),
    (0.1190, 105.0), (0.1212, 100.0), (0.1222, 95.5), (0.1238, 79.0), (0.1253, 50.0), (0.1264, 25.0),
    (0.1272, 5.0), (0.1278, -8.5), (0.1300, -10.0), (0.1455, -10.0),
    (0.1462, -8.6), (0.1470, 13.7), (0.1484, 41.7), (0.1502, 71.8), (0.1516, 82.0), (0.1531, 86.5),
    (0.1592, 89.7), (0.1639, 90.8), (0.1658, 98.7), (0.1672, 104.0), (0.1686, 101.0), (0.1698, 92.0),
    (0.1707, 75.0), (0.1719, 54.5), (0.1733, 35.5), (0.1747, 16.5), (0.1761, 8.0), (0.1785, 2.6),
    (0.1837, -0.8), (0.1884, -1.9), (0.1931, -4.7), (0.1945, -8.6), (0.1952, -3.0), (0.1959, 13.7),
    (0.1973, 41.7), (0.1987, 64.0), (0.2001, 74.5), (0.2030, 82.3), (0.2073, 86.8), (0.2116, 92.4),
    (0.2145, 89.5), (0.2174, 95.2), (0.2188, 90.2), (0.2203, 74.5), (0.2214, 50.0), (0.2232, 18.7),
    (0.2250, 7.5), (0.2289, 1.9), (0.2340, -1.5), (0.2390, -3.0), (0.2412, -6.0), (0.2426, 7.5),
    (0.2441, 29.8), (0.2451, 50.0), (0.2469, 67.8), (0.2491, 79.0), (0.2549, 88.0), (0.2606, 90.7),
    (0.2650, 92.4), (0.2668, 90.0), (0.2686, 74.5), (0.2711, 50.0), (0.2736, 18.7), (0.2750, 8.6),
    (0.2779, 4.1), (0.2830, 0.8), (0.2880, -2.6), (0.2895, -6.0), (0.2905, 1.9), (0.2923, 29.8),
    (0.2938, 50.0), (0.2959, 72.3), (0.2988, 79.0), (0.3024, 82.3), (0.3082, 84.6), (0.3146, 87.9),
    (0.3161, 85.7), (0.3171, 69.0), (0.3182, 50.0), (0.3200, 24.0), (0.3218, 9.7), (0.3247, 5.3),
    (0.3305, 1.3), (0.3355, -0.9), (0.3377, -2.6), (0.3391, 7.5), (0.3406, 29.8), (0.3420, 50.0),
    (0.3442, 67.8), (0.3471, 79.0), (0.3507, 83.5), (0.3564, 85.7), (0.3622, 87.9), (0.3640, 83.5),
    (0.3658, 69.0), (0.3680, 50.0), (0.3701, 24.0), (0.3719, 12.0), (0.3752, 6.4), (0.3809, 1.9),
    (0.3852, -0.3), (0.3867, 7.5), (0.3885, 29.8), (0.3903, 50.0), (0.3925, 67.8), (0.3953, 77.9),
    (0.3997, 82.3), (0.4047, 85.7), (0.4076, 87.4), (0.4086, 86.8), (0.4115, 80.0), (0.4133, 65.6),
    (0.4148, 50.0), (0.4166, 27.6), (0.4187, 13.0), (0.4223, 6.4), (0.4281, 3.0), (0.4331, 0.2),
    (0.4346, 5.3), (0.4367, 27.6), (0.4389, 50.0), (0.4411, 65.6), (0.4439, 74.5), (0.4483, 80.0),
    (0.4533, 83.5), (0.4576, 85.7), (0.4598, 80.0), (0.4620, 67.8), (0.4641, 50.0), (0.4663, 27.6),
    (0.4684, 14.2), (0.4720, 7.5), (0.4771, 5.3), (0.4828, 2.5), (0.4843, 7.5), (0.4861, 27.6),
    (0.4879, 50.0), (0.4900, 65.6), (0.4929, 74.5), (0.4965, 77.9), (0.5000, 80.0),
]

# zoomed view (inset) as drawn in the reference
inset_exp_pts = [
    (0.1077, 107.8), (0.1081, 108.1), (0.1085, 107.6), (0.1089, 107.9), (0.1093, 108.2), (0.1097, 107.7),
    (0.1101, 107.4), (0.1105, 108.0), (0.1109, 107.6), (0.1113, 107.9), (0.1117, 107.3), (0.1121, 107.8),
    (0.1125, 108.0), (0.1129, 107.5), (0.1133, 107.8), (0.1137, 107.4), (0.1141, 107.7), (0.1145, 107.9),
    (0.1149, 107.3), (0.1153, 107.6), (0.1157, 105.2), (0.1161, 104.9), (0.1165, 107.2), (0.1169, 107.6),
    (0.1173, 107.0), (0.1177, 107.3), (0.1181, 106.6), (0.1185, 104.4), (0.1189, 104.8), (0.1193, 106.0),
    (0.1197, 105.6), (0.1201, 106.2), (0.1205, 105.8), (0.1209, 106.4), (0.1213, 105.9), (0.1217, 105.1),
    (0.1221, 104.6), (0.1225, 103.6), (0.1229, 101.8), (0.1233, 100.0), (0.1237, 98.6), (0.1241, 97.2),
    (0.1245, 93.5), (0.1249, 89.7), (0.1253, 87.2), (0.1257, 84.8), (0.1261, 81.0), (0.1265, 76.5),
    (0.1269, 70.5), (0.1273, 63.0), (0.1277, 55.5), (0.1281, 44.0), (0.1285, 32.0), (0.1289, 21.5),
    (0.1293, 11.5), (0.1297, 3.5), (0.1301, -2.5), (0.1305, -6.5), (0.1309, -8.2), (0.1313, -9.0),
    (0.1317, -9.6), (0.1321, -10.2), (0.1325, -9.8), (0.1329, -10.4), (0.1333, -9.9), (0.1337, -10.3),
    (0.1341, -9.7), (0.1345, -10.5), (0.1349, -10.0), (0.1353, -10.2), (0.1357, -9.8), (0.1361, -10.6),
    (0.1365, -10.1), (0.1369, -9.9), (0.1373, -10.4), (0.1377, -10.0), (0.1381, -9.7), (0.1385, -10.3),
    (0.1389, -10.8), (0.1393, -10.1), (0.1397, -9.8), (0.1401, -10.4), (0.1405, -10.0), (0.1409, -9.6),
    (0.1413, -10.2), (0.1417, -10.5), (0.1421, -9.9), (0.1425, -10.3), (0.1429, -10.0), (0.1433, -10.9),
    (0.1437, -10.2), (0.1441, -9.8), (0.1445, -10.1),
]
inset_finer_pts = [
    (0.1075, 107.5), (0.1170, 107.5), (0.1185, 106.8), (0.1202, 104.7), (0.1219, 102.0), (0.1233, 94.5),
    (0.1249, 79.5), (0.1263, 62.5), (0.1274, 39.5), (0.1285, 16.0), (0.1292, -3.5), (0.1295, -10.0),
    (0.1450, -10.0),
]
inset_ref_pts = [
    (0.1075, 107.5), (0.1170, 107.5), (0.1185, 106.8), (0.1202, 104.7), (0.1219, 102.0), (0.1233, 94.7),
    (0.1249, 79.7), (0.1263, 63.0), (0.1274, 40.0), (0.1285, 16.6), (0.1293, -3.3), (0.1296, -10.0),
    (0.1450, -10.0),
]
inset_coarse2_pts = [
    (0.1075, 107.5), (0.1170, 107.5), (0.1190, 106.5), (0.1208, 104.0), (0.1220, 101.5), (0.1233, 94.7),
    (0.1249, 78.0), (0.1263, 60.0), (0.1274, 36.5), (0.1281, 18.0), (0.1288, 3.3), (0.1299, -5.0),
    (0.1307, -10.0), (0.1450, -10.0),
]
inset_coarse4_pts = [
    (0.1075, 107.5), (0.1167, 107.5), (0.1200, 104.3), (0.1219, 99.7), (0.1231, 94.0), (0.1271, 36.5),
    (0.1293, 10.0), (0.1303, -3.0), (0.1307, -6.6), (0.1340, -9.0), (0.1450, -10.0),
]

x_ticks = [0.10, 0.15, 0.20, 0.25, 0.30, 0.35, 0.40, 0.45, 0.50]
y_ticks = [0, 25, 50, 75, 100, 125, 150, 175, 200]
inset_x_ticks = [0.11, 0.12, 0.13, 0.14]
inset_y_ticks = [0, 50, 100]

# ------------------------------------------------------------------
# styling / geometry
# ------------------------------------------------------------------
W, H = 3304, 2518
M_L, M_R, M_T, M_B = 300, 101, 60, 636
PLOT_W = W - M_L - M_R
PLOT_H = H - M_T - M_B

X_RANGE = [0.09, 0.50]
Y_RANGE = [-20, 200]
INSET_X_RANGE = [0.1075, 0.145]
INSET_Y_RANGE = [-15, 120]
INSET_DOM_X = [0.4444, 0.9842]
INSET_DOM_Y = [0.6138, 0.9734]
ZOOM_BOX = (0.11, 0.14, -15, 120)

SERIF = "Liberation Serif, Times New Roman, serif"
GREY_DOT = "#808080"
EDGE = "#5f5f5f"
LW = 8
DASH = "31px,13px"
DASHDOT = "51px,13px,8px,13px"

series = [
    # name, points, inset points, main colour, inset colour, dash
    ("Finer mesh", finer_pts, inset_finer_pts, "#0000ff", "#1f77b4", DASH),
    ("Reference mesh", ref_pts, inset_ref_pts, "#000000", "#000000", DASH),
    ("Coarser mesh 2", coarse2_pts, inset_coarse2_pts, "#008000", "#2ca02c", DASHDOT),
    ("Coarser mesh 4", coarse4_pts, inset_coarse4_pts, "#ff0000", "#d62728", DASHDOT),
]


def split(pts):
    return [p[0] for p in pts], [p[1] for p in pts]


def px_x(px):
    return (px - M_L) / PLOT_W


def px_y(py):
    return (H - M_B - py) / PLOT_H


def data_to_paper(t, h):
    return ((t - X_RANGE[0]) / (X_RANGE[1] - X_RANGE[0]),
            (h - Y_RANGE[0]) / (Y_RANGE[1] - Y_RANGE[0]))


fig = go.Figure()

# zoom rectangle (drawn under the data)
x0, x1, y0, y1 = ZOOM_BOX
fig.add_trace(go.Scatter(x=[x0, x1, x1, x0, x0], y=[y0, y0, y1, y1, y0], mode="lines",
                         line=dict(color=EDGE, width=4), showlegend=False, hoverinfo="skip"))
tl = data_to_paper(x0, y1)
br = data_to_paper(x1, y0)

t_ex, h_ex = split(exp_pts)
fig.add_trace(go.Scatter(x=t_ex, y=h_ex, mode="markers", name="Experimental",
                         marker=dict(color=GREY_DOT, size=12, line=dict(width=0)), showlegend=False))
for name, pts, _, col, _, dash in series:
    t, h = split(pts)
    fig.add_trace(go.Scatter(x=t, y=h, mode="lines", name=name, showlegend=False,
                             line=dict(color=col, width=LW, dash=dash, shape="spline", smoothing=0.5)))

# inset
t_ix, h_ix = split(inset_exp_pts)
fig.add_trace(go.Scatter(x=t_ix, y=h_ix, mode="markers", xaxis="x2", yaxis="y2", showlegend=False,
                         marker=dict(color=GREY_DOT, size=12, line=dict(width=0))))
for name, _, ipts, _, icol, dash in series:
    t, h = split(ipts)
    fig.add_trace(go.Scatter(x=t, y=h, mode="lines", xaxis="x2", yaxis="y2", showlegend=False,
                             line=dict(color=icol, width=LW, dash=dash)))

axis_common = dict(showline=True, linecolor="black", linewidth=4, mirror=True,
                   ticks="outside", tickcolor="black", tickwidth=3, zeroline=False)

fig.update_layout(
    width=W, height=H, autosize=False,
    margin=dict(l=M_L, r=M_R, t=M_T, b=M_B, pad=0),
    paper_bgcolor="white", plot_bgcolor="white",
    font=dict(family=SERIF, size=85, color="black"),
    showlegend=False,
    xaxis=dict(range=X_RANGE, tickvals=x_ticks, tickformat=".2f", ticklen=22,
               ticklabelstandoff=-22,
               showgrid=True, gridcolor="#ebebeb", gridwidth=3,
               tickfont=dict(family=SERIF, size=85),
               title=dict(text="Time (s)", font=dict(family=SERIF, size=84), standoff=10),
               **axis_common),
    yaxis=dict(range=Y_RANGE, tickvals=y_ticks, ticklen=22,
               showgrid=True, gridcolor="#ebebeb", gridwidth=3,
               tickfont=dict(family=SERIF, size=85),
               title=dict(text="Pressure head (m)", font=dict(family=SERIF, size=84), standoff=14),
               **axis_common),
    xaxis2=dict(domain=INSET_DOM_X, anchor="y2", range=INSET_X_RANGE, tickvals=inset_x_ticks,
                tickformat=".2f", ticklen=20, ticklabelstandoff=-10, showgrid=False,
                tickfont=dict(family=SERIF, size=57), **axis_common),
    yaxis2=dict(domain=INSET_DOM_Y, anchor="x2", range=INSET_Y_RANGE, tickvals=inset_y_ticks,
                ticklen=20, showgrid=False,
                tickfont=dict(family=SERIF, size=57), **axis_common),
)

shapes = [
    dict(type="line", xref="paper", yref="paper", x0=tl[0], y0=tl[1],
         x1=INSET_DOM_X[0], y1=INSET_DOM_Y[1], line=dict(color=EDGE, width=4), layer="below"),
    dict(type="line", xref="paper", yref="paper", x0=br[0], y0=br[1],
         x1=INSET_DOM_X[1], y1=INSET_DOM_Y[0], line=dict(color=EDGE, width=4), layer="below"),
]

# ------------------------------------------------------------------
# legend box (two columns, column-major like the original)
# ------------------------------------------------------------------
BX0, BX1, BY0, BY1, RAD = 401, 3098, 2121, 2479, 16
rx, ry = RAD / PLOT_W, RAD / PLOT_H
lx0, lx1, ly0, ly1 = px_x(BX0), px_x(BX1), px_y(BY1), px_y(BY0)
path = (f"M {lx0 + rx},{ly0} L {lx1 - rx},{ly0} Q {lx1},{ly0} {lx1},{ly0 + ry} "
        f"L {lx1},{ly1 - ry} Q {lx1},{ly1} {lx1 - rx},{ly1} L {lx0 + rx},{ly1} "
        f"Q {lx0},{ly1} {lx0},{ly1 - ry} L {lx0},{ly0 + ry} Q {lx0},{ly0} {lx0 + rx},{ly0} Z")
shapes.append(dict(type="path", xref="paper", yref="paper", path=path,
                   line=dict(color="#d4d4d4", width=4), fillcolor="rgba(255,255,255,0.85)"))

MATH = '<span style="font-family:DejaVu Sans">{}</span>'
DX = MATH.format("Δ<i>x</i>")
legend_rows = [
    # label, col, row, colour, dash (None -> dot)
    ("Experimental", 0, 0, GREY_DOT, None),
    ("Finer mesh (" + MATH.format("0.5Δ<i>x</i>") + ", " + DX + " = 0.24 m)", 0, 1, "#0000ff", DASH),
    ("Reference mesh (" + DX + " = 0.47 m)", 0, 2, "#000000", DASH),
    ("Coarser mesh (" + MATH.format("2Δ<i>x</i>") + ", " + DX + " = 0.94 m)", 1, 0, "#008000", DASHDOT),
    ("Coarser mesh (" + MATH.format("4Δ<i>x</i>") + ", " + DX + " = 1.88 m)", 1, 1, "#ff0000", DASHDOT),
]
COL_LINE = [(430, 579), (1823, 1970)]
COL_TEXT = [643, 2036]
ROW_Y = [2184, 2294, 2405]

annotations = []
for label, col, row, colr, dash in legend_rows:
    yy = px_y(ROW_Y[row])
    a, b = COL_LINE[col]
    if dash is None:
        shapes.append(dict(type="circle", xref="paper", yref="paper", xsizemode="pixel",
                           ysizemode="pixel", xanchor=px_x((a + b) / 2), yanchor=yy,
                           x0=-6, x1=6, y0=-6, y1=6, fillcolor=colr, line=dict(width=0)))
    else:
        shapes.append(dict(type="line", xref="paper", yref="paper", x0=px_x(a), x1=px_x(b),
                           y0=yy, y1=yy, line=dict(color=colr, width=LW, dash=dash)))
    annotations.append(dict(text=label, xref="paper", yref="paper", x=px_x(COL_TEXT[col]), y=yy,
                            xanchor="left", yanchor="middle", showarrow=False,
                            font=dict(family=SERIF, size=74, color="black")))

fig.update_layout(shapes=shapes, annotations=annotations)

fig.write_html("out.html", config={"displayModeBar": False},
               post_script="document.body.style.margin='0px';")
